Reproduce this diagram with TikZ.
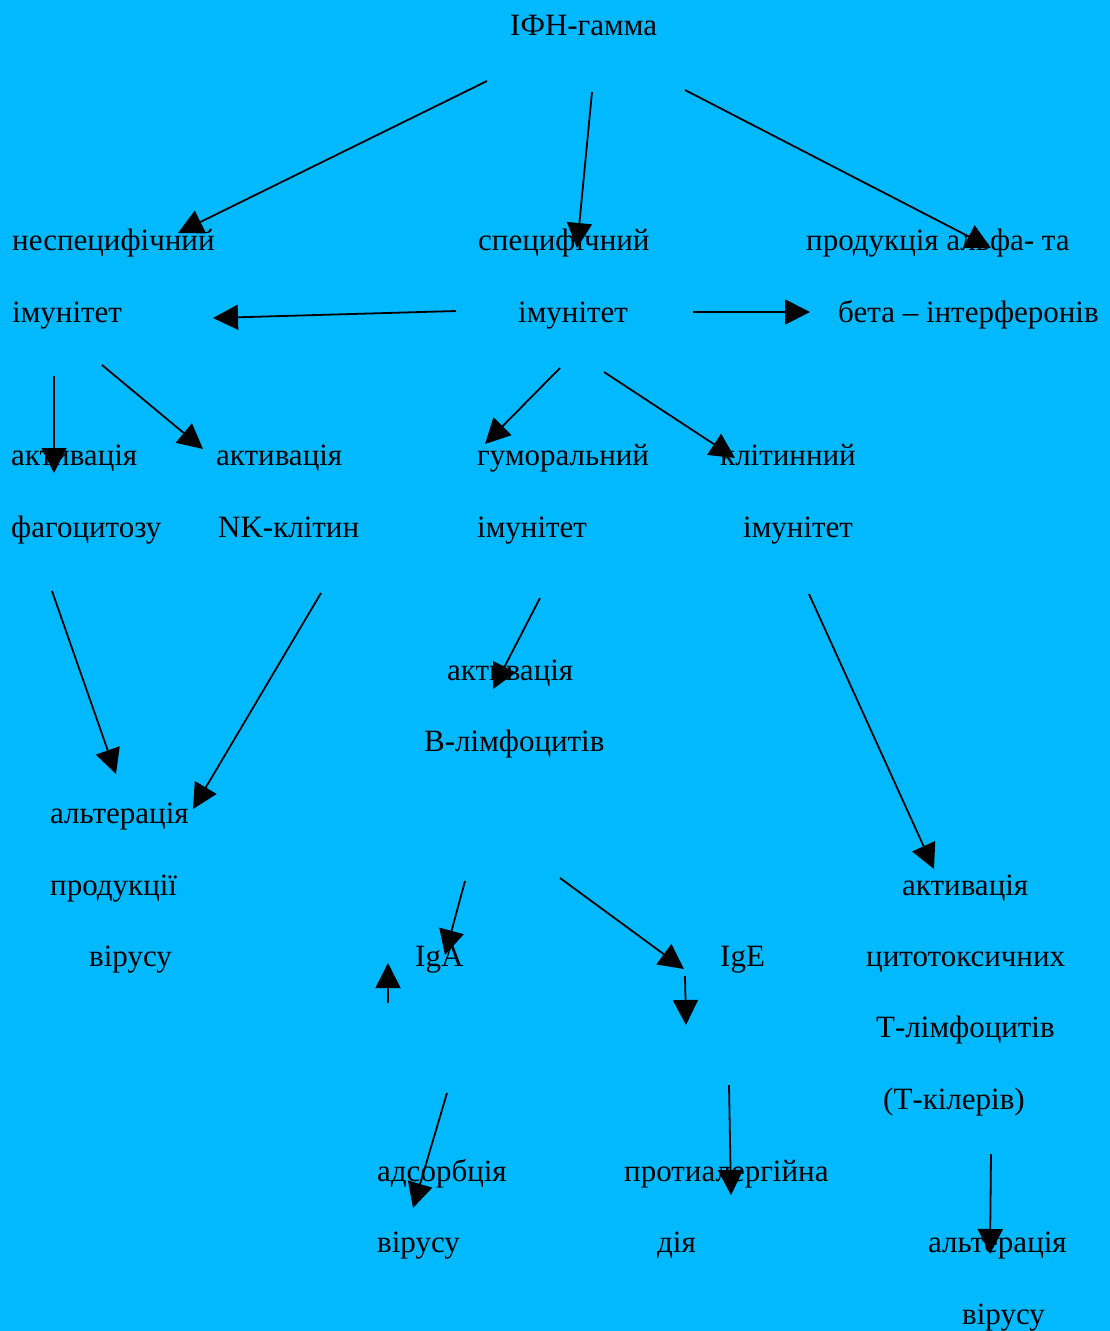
\documentclass[tikz,border=0pt]{standalone}
\usepackage{fontspec}
\setmainfont{Liberation Serif}
\usetikzlibrary{arrows.meta}
\definecolor{bg}{HTML}{00B9FF}
\tikzset{
  lbl/.style={anchor=base west, inner sep=0pt, font=\fontsize{31}{34}\selectfont, text=black},
  arr/.style={-{Triangle[length=25pt,width=25pt]}, line width=1.8pt, black},
}
\begin{document}
\begin{tikzpicture}[x=1pt,y=-1pt]
\fill[bg] (0,0) rectangle (1110,1331);
\useasboundingbox (0,0) rectangle (1110,1331);
% labels
\node[lbl] (ifn) at (510,35) {ІФН-гамма};
\node[lbl] (n1) at (12,250) {неспецифічний};
\node[lbl] (n2) at (12,322) {імунітет};
\node[lbl] (s1) at (478,250) {специфічний};
\node[lbl] (s2) at (518,322) {імунітет};
\node[lbl] (p1) at (806,250) {продукція альфа- та};
\node[lbl] (p2) at (838,322) {бета – інтерферонів};
\node[lbl] (af1) at (11,465) {активація};
\node[lbl] (af2) at (11,537) {фагоцитозу};
\node[lbl] (nk1) at (216,465) {активація};
\node[lbl] (nk2) at (218,537) {NK-клітин};
\node[lbl] (h1) at (477,465) {гуморальний};
\node[lbl] (h2) at (477,537) {імунітет};
\node[lbl] (c1) at (720,465) {клітинний};
\node[lbl] (c2) at (743,537) {імунітет};
\node[lbl] (b1) at (447,680) {активація};
\node[lbl] (b2) at (424,751) {В-лімфоцитів};
\node[lbl] (al1) at (50,823) {альтерація};
\node[lbl] (al2) at (50,895) {продукції};
\node[lbl] (al3) at (89,966) {вірусу};
\node[lbl] (t1) at (902,895) {активація};
\node[lbl] (t2) at (866,966) {цитотоксичних};
\node[lbl] (t3) at (876,1037) {Т-лімфоцитів};
\node[lbl] (t4) at (883,1109) {(Т-кілерів)};
\node[lbl] (iga) at (415,966) {IgA};
\node[lbl] (ige) at (720,966) {IgE};
\node[lbl] (ad1) at (377,1181) {адсорбція};
\node[lbl] (ad2) at (377,1252) {вірусу};
\node[lbl] (pa1) at (624,1181) {протиалергійна};
\node[lbl] (pa2) at (657,1252) {дія};
\node[lbl] (av1) at (928,1252) {альтерація};
\node[lbl] (av2) at (962,1324) {вірусу};
% connector end points
\coordinate (a1s) at (487,81);   \coordinate (a1e) at (178,233);
\coordinate (a2s) at (592,92);   \coordinate (a2e) at (577,248);
\coordinate (a3s) at (685,90);   \coordinate (a3e) at (991,248);
\coordinate (a4s) at (456,311);  \coordinate (a4e) at (213,318);
\coordinate (a5s) at (693,312);  \coordinate (a5e) at (810,312);
\coordinate (a6s) at (54,376);   \coordinate (a6e) at (54,473);
\coordinate (a7s) at (102,365);  \coordinate (a7e) at (203,449);
\coordinate (a8s) at (560,368);  \coordinate (a8e) at (485,444);
\coordinate (a9s) at (604,372);  \coordinate (a9e) at (735,458);
\coordinate (a10s) at (52,591);  \coordinate (a10e) at (116,774);
\coordinate (a11s) at (321,593); \coordinate (a11e) at (193,809);
\coordinate (a12s) at (540,598); \coordinate (a12e) at (493,689);
\coordinate (a13s) at (809,594); \coordinate (a13e) at (934,869);
\coordinate (a14s) at (465,881); \coordinate (a14e) at (445,955);
\coordinate (a15s) at (560,878); \coordinate (a15e) at (684,969);
\coordinate (a16s) at (685,976); \coordinate (a16e) at (686,1025);
\coordinate (a17s) at (388,1003);\coordinate (a17e) at (388,963);
\coordinate (a18s) at (447,1093);\coordinate (a18e) at (413,1208);
\coordinate (a19s) at (729,1085);\coordinate (a19e) at (731,1195);
\coordinate (a20s) at (991,1154);\coordinate (a20e) at (990,1254);
\foreach \i in {1,...,20} {\draw[arr] (a\i s) -- (a\i e);}
\end{tikzpicture}
\end{document}
